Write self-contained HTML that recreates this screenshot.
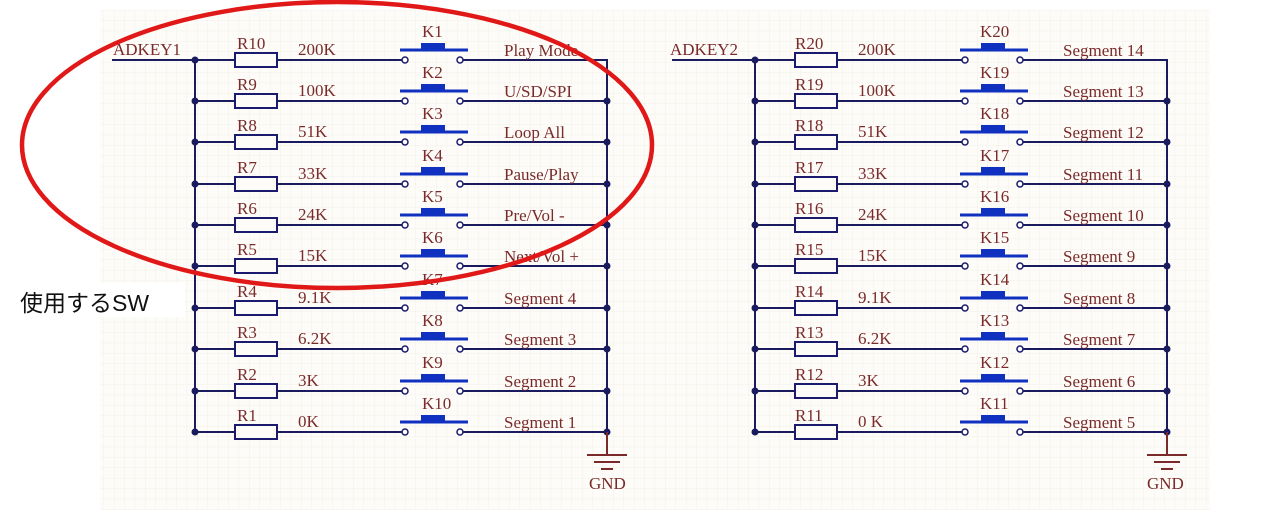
<!DOCTYPE html>
<html><head><meta charset="utf-8"><style>
body{margin:0;background:#fff;width:1277px;height:528px;overflow:hidden}
svg{display:block}
text{font-family:"Liberation Serif",serif;font-size:17px;fill:#7a2a2a}
</style></head><body>
<svg width="1277" height="528" viewBox="0 0 1277 528">
<defs>
<pattern id="g" width="10.4" height="10.4" patternUnits="userSpaceOnUse"><path d="M10.4 0V10.4H0" fill="none" stroke="#f3efe9" stroke-width="1"/></pattern>
<g id="row">
<line x1="195" y1="0" x2="235" y2="0" stroke="#1a1a5e" stroke-width="2"/>
<rect x="235" y="-7" width="42" height="14" fill="#fdfcf8" stroke="#1a1a6e" stroke-width="2"/>
<line x1="277" y1="0" x2="402" y2="0" stroke="#1a1a5e" stroke-width="2"/>
<circle cx="405" cy="0" r="3" fill="#fff" stroke="#1a1a6e" stroke-width="1.5"/>
<circle cx="460" cy="0" r="3" fill="#fff" stroke="#1a1a6e" stroke-width="1.5"/>
<line x1="463" y1="0" x2="607" y2="0" stroke="#1a1a5e" stroke-width="2"/>
<line x1="400" y1="-10" x2="468" y2="-10" stroke="#1030c0" stroke-width="3"/>
<rect x="421" y="-17" width="24" height="7" fill="#1030c0"/>
<circle cx="195" cy="0" r="3.5" fill="#1a1a5e"/>
</g>
<circle id="rd" cx="607" cy="0" r="3.5" fill="#1a1a5e"/>
<g id="gnd">
<line x1="607" y1="432" x2="607" y2="455" stroke="#7a2a2a" stroke-width="2"/>
<line x1="587" y1="455" x2="627" y2="455" stroke="#7a2a2a" stroke-width="2"/>
<line x1="594" y1="462" x2="620" y2="462" stroke="#7a2a2a" stroke-width="2"/>
<line x1="601" y1="469" x2="613" y2="469" stroke="#7a2a2a" stroke-width="2"/>
</g>
<g id="blk">
<line x1="195" y1="60" x2="195" y2="432" stroke="#1a1a5e" stroke-width="2"/>
<line x1="607" y1="59" x2="607" y2="432" stroke="#1a1a5e" stroke-width="2"/>
<line x1="112" y1="60" x2="195" y2="60" stroke="#1a1a5e" stroke-width="2"/>
<use href="#row" y="60"/><use href="#row" y="101"/><use href="#row" y="142"/><use href="#row" y="184"/><use href="#row" y="225"/><use href="#row" y="266"/><use href="#row" y="308"/><use href="#row" y="349"/><use href="#row" y="391"/><use href="#row" y="432"/>
<use href="#rd" y="101"/><use href="#rd" y="142"/><use href="#rd" y="184"/><use href="#rd" y="225"/><use href="#rd" y="266"/><use href="#rd" y="308"/><use href="#rd" y="349"/><use href="#rd" y="391"/><use href="#rd" y="432"/>
<use href="#gnd"/>
</g>
</defs>
<rect x="100" y="10" width="1110" height="500" fill="#fdfcf8"/>
<rect x="100" y="10" width="1110" height="500" fill="url(#g)"/>
<use href="#blk"/>
<use href="#blk" x="560"/>
<g>
<text x="113" y="55">ADKEY1</text><text x="589" y="489">GND</text>
<text x="237" y="49">R10</text><text x="298" y="55">200K</text><text x="422" y="37">K1</text><text x="504" y="56">Play Mode</text>
<text x="237" y="90">R9</text><text x="298" y="96">100K</text><text x="422" y="78">K2</text><text x="504" y="97">U/SD/SPI</text>
<text x="237" y="131">R8</text><text x="298" y="137">51K</text><text x="422" y="119">K3</text><text x="504" y="138">Loop All</text>
<text x="237" y="173">R7</text><text x="298" y="179">33K</text><text x="422" y="161">K4</text><text x="504" y="180">Pause/Play</text>
<text x="237" y="214">R6</text><text x="298" y="220">24K</text><text x="422" y="202">K5</text><text x="504" y="221">Pre/Vol -</text>
<text x="237" y="255">R5</text><text x="298" y="261">15K</text><text x="422" y="243">K6</text><text x="504" y="262">Next/Vol +</text>
<text x="237" y="297">R4</text><text x="298" y="303">9.1K</text><text x="422" y="285">K7</text><text x="504" y="304">Segment 4</text>
<text x="237" y="338">R3</text><text x="298" y="344">6.2K</text><text x="422" y="326">K8</text><text x="504" y="345">Segment 3</text>
<text x="237" y="380">R2</text><text x="298" y="386">3K</text><text x="422" y="368">K9</text><text x="504" y="387">Segment 2</text>
<text x="237" y="421">R1</text><text x="298" y="427">0K</text><text x="422" y="409">K10</text><text x="504" y="428">Segment 1</text>
</g>
<g>
<text x="670" y="55">ADKEY2</text><text x="1147" y="489">GND</text>
<text x="795" y="49">R20</text><text x="858" y="55">200K</text><text x="980" y="37">K20</text><text x="1063" y="56">Segment 14</text>
<text x="795" y="90">R19</text><text x="858" y="96">100K</text><text x="980" y="78">K19</text><text x="1063" y="97">Segment 13</text>
<text x="795" y="131">R18</text><text x="858" y="137">51K</text><text x="980" y="119">K18</text><text x="1063" y="138">Segment 12</text>
<text x="795" y="173">R17</text><text x="858" y="179">33K</text><text x="980" y="161">K17</text><text x="1063" y="180">Segment 11</text>
<text x="795" y="214">R16</text><text x="858" y="220">24K</text><text x="980" y="202">K16</text><text x="1063" y="221">Segment 10</text>
<text x="795" y="255">R15</text><text x="858" y="261">15K</text><text x="980" y="243">K15</text><text x="1063" y="262">Segment 9</text>
<text x="795" y="297">R14</text><text x="858" y="303">9.1K</text><text x="980" y="285">K14</text><text x="1063" y="304">Segment 8</text>
<text x="795" y="338">R13</text><text x="858" y="344">6.2K</text><text x="980" y="326">K13</text><text x="1063" y="345">Segment 7</text>
<text x="795" y="380">R12</text><text x="858" y="386">3K</text><text x="980" y="368">K12</text><text x="1063" y="387">Segment 6</text>
<text x="795" y="421">R11</text><text x="858" y="427">0 K</text><text x="980" y="409">K11</text><text x="1063" y="428">Segment 5</text>
</g>
<ellipse cx="337" cy="145" rx="315" ry="143" fill="none" stroke="#e01818" stroke-width="4.5"/>
<rect x="10" y="283" width="175" height="34" fill="#fff"/>
<text x="20" y="311" style="font-family:'Liberation Sans','Noto Sans CJK JP',sans-serif;font-size:23px;fill:#111">使用するSW</text>
</svg>
</body></html>
